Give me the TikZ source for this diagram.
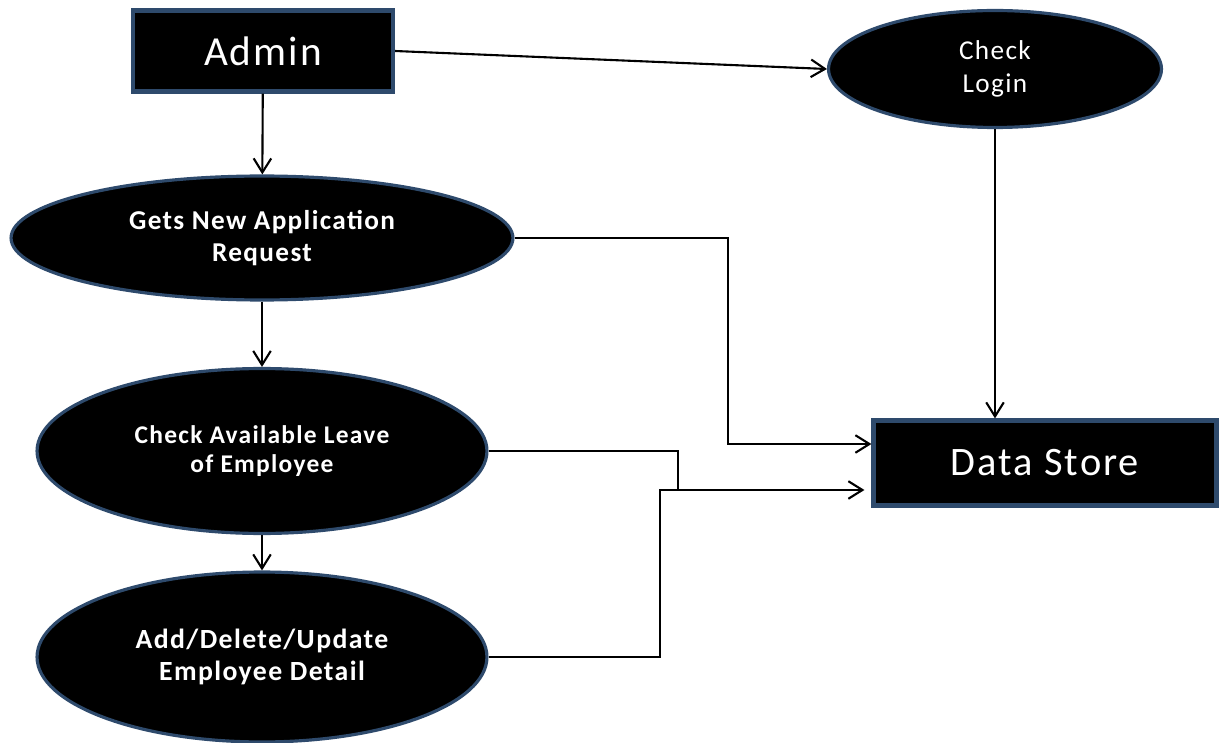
\documentclass[tikz,border=0pt]{standalone}
\usepackage{fontspec}
\setmainfont{Carlito}[LetterSpace=5]
\usetikzlibrary{shapes.geometric}
\usetikzlibrary{arrows.meta}
\definecolor{rimblue}{HTML}{2E4A6C}

\begin{document}
\begin{tikzpicture}[x=0.02cm,y=-0.02cm,>={Straight Barb[length=8pt,width=10pt]},
    flow/.style={->,line width=1.2pt},
    box node/.style={rectangle,draw=rimblue,fill=black,line width=2.4pt,text=white,inner sep=0pt},
    proc node/.style={ellipse,draw=rimblue,fill=black,line width=1.8pt,text=white,inner sep=0pt,align=center}]
    \useasboundingbox (0,0) rectangle (1221,743);
    % entities
    \node[box node,minimum width=5.2cm,minimum height=1.62cm,font=\fontsize{23.5}{28}\selectfont] (admin) at (263,51) {Admin};
    \node[box node,minimum width=6.86cm,minimum height=1.7cm,font=\fontsize{23}{27}\selectfont] (store) at (1045,463) {Data Store};
    % processes
    \node[proc node,minimum width=6.66cm,minimum height=2.34cm,font=\fontsize{15.5}{18.7}\selectfont] (login) at (995,69) {Check\\Login};
    \node[proc node,minimum width=10.04cm,minimum height=2.48cm,font=\bfseries\fontsize{15.5}{18.7}\selectfont] (gets) at (262,238) {Gets New Application\\Request};
    \node[proc node,minimum width=9.0cm,minimum height=3.3cm,font=\bfseries\fontsize{14.5}{17}\selectfont] (leave) at (262,451) {Check Available Leave\\of Employee};
    \node[proc node,minimum width=9.0cm,minimum height=3.4cm,font=\bfseries\fontsize{15.8}{18.7}\selectfont] (update) at (262,657) {Add/Delete/Update\\Employee Detail};
    % junction points
    \coordinate (j1) at (728,444);
    \coordinate (j2) at (678,490);
    \path[flow] (admin.east) edge (login.west);
    \path[flow] (admin) edge (gets);
    \path[flow] (gets) edge (leave);
    \path[flow] (leave) edge (update);
    \path[flow] (login.south) edge (login.south |- store.north);
    \draw[flow] (gets.east) -| (j1) -- (j1 -| store.west);
    \draw[flow,shorten >=4pt] (leave.east) -| (j2) -- (j2 -| store.west);
    \draw[line width=1.2pt] (update.east) -| ([xshift=-0.36cm]j2) -- (j2);
\end{tikzpicture}
\end{document}
